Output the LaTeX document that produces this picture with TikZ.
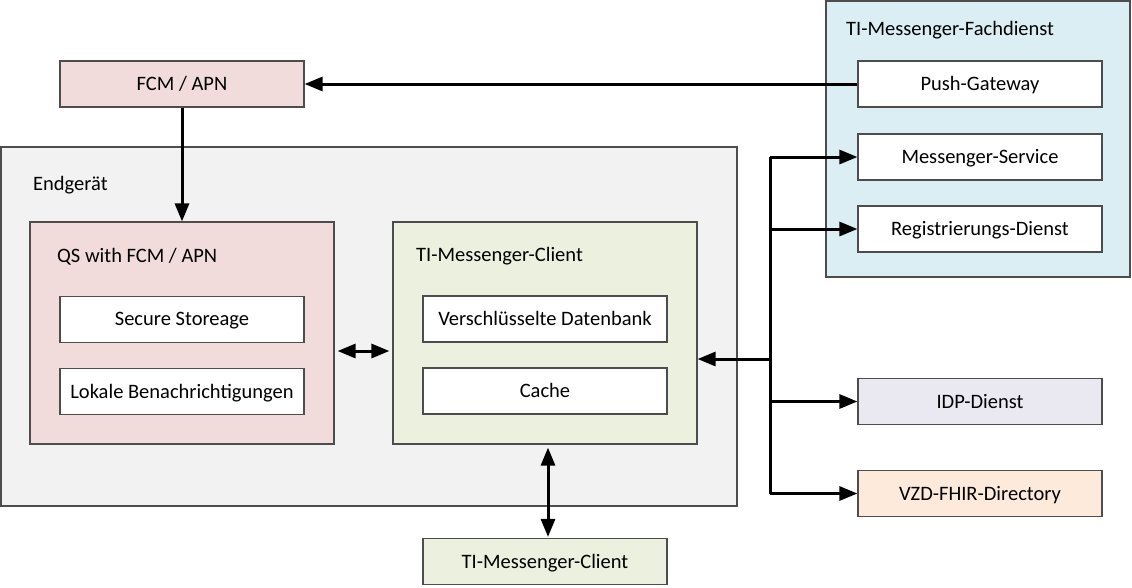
\documentclass[tikz,border=0pt]{standalone}
\usepackage{fontspec}
\setmainfont{Carlito}
\usetikzlibrary{arrows.meta}
\definecolor{pinkf}{HTML}{F2DCDB}
\definecolor{bluef}{HTML}{DBEEF4}
\definecolor{greyf}{HTML}{F2F2F2}
\definecolor{greenf}{HTML}{EBF1DE}
\definecolor{lavf}{HTML}{EAE8F1}
\definecolor{peachf}{HTML}{FDEADA}
\definecolor{bordc}{HTML}{4D4D4D}
\tikzset{
  every node/.style={font=\fontsize{20.5}{24}\selectfont},
  box/.style={draw=bordc, line width=1.2pt, inner sep=0pt, minimum width=244pt, minimum height=46pt, fill=white, text depth=1pt},
  cont/.style={draw=bordc, line width=1.2pt, inner sep=0pt},
  lbl/.style={anchor=west, inner sep=0pt},
  conn/.style={line width=3pt, black},
  arr/.style={conn, -{Triangle[length=18pt,width=14pt]}},
  darr/.style={conn, {Triangle[length=18pt,width=14pt]}-{Triangle[length=18pt,width=14pt]}},
}
\begin{document}
\begin{tikzpicture}[x=1pt,y=-1pt]
\useasboundingbox (0,0) rectangle (1132,587);
% containers
\node[cont, fill=greyf, minimum width=736pt, minimum height=359pt] (end) at (369,326.5) {};
\node[lbl] (endl) at (33,185) {Endgerät};
\node[cont, fill=bluef, minimum width=304pt, minimum height=276pt] (fach) at (978,139) {};
\node[lbl] (fachl) at (846,30) {TI-Messenger-Fachdienst};
\node[cont, fill=pinkf, minimum width=304pt, minimum height=222pt] (qs) at (182,333) {};
\node[lbl] (qsl) at (57,257) {QS with FCM / APN};
\node[cont, fill=greenf, minimum width=304pt, minimum height=222pt] (cl) at (545,333) {};
\node[lbl] (cll) at (416,256) {TI-Messenger-Client};
% boxes
\node[box, fill=pinkf] (fcm) at (182,84) {FCM / APN};
\node[box] (push) at (980,84) {Push-Gateway};
\node[box] (ms) at (980,157) {Messenger-Service};
\node[box] (reg) at (980,229) {Registrierungs-Dienst};
\node[box] (sec) at (182,319.5) {Secure Storeage};
\node[box] (lok) at (182,391.5) {Lokale Benachrichtigungen};
\node[box] (db) at (545,319) {Verschlüsselte Datenbank};
\node[box] (cache) at (545,391) {Cache};
\node[box, fill=lavf] (idp) at (980,401.5) {IDP-Dienst};
\node[box, fill=peachf] (vzd) at (980,493.5) {VZD-FHIR-Directory};
\node[box, fill=greenf] (cl2) at (545,561.5) {TI-Messenger-Client};
% connectors
\coordinate (bus) at (770,0);
\draw[arr] (push.west) -- (fcm.east);
\draw[arr] (fcm.south) -- (qs.north);
\draw[darr] ([shift={(3pt,-18pt)}]qs.east) -- ([shift={(-3pt,-18pt)}]cl.west);
\draw[conn] (bus |- ms.west) -- (bus |- vzd.west);
\draw[arr] (bus |- ms.west) -- (ms.west);
\draw[arr] (bus |- reg.west) -- (reg.west);
\draw[arr] (bus |- idp.west) -- (idp.west);
\draw[arr] (bus |- vzd.west) -- (vzd.west);
\coordinate (clin) at ([yshift=-26pt]cl.east);
\draw[arr] (bus |- clin) -- (clin);
\draw[darr] ([xshift=3pt,yshift=-3pt]cl.south) -- ([xshift=3pt,yshift=1pt]cl2.north);
\end{tikzpicture}
\end{document}
